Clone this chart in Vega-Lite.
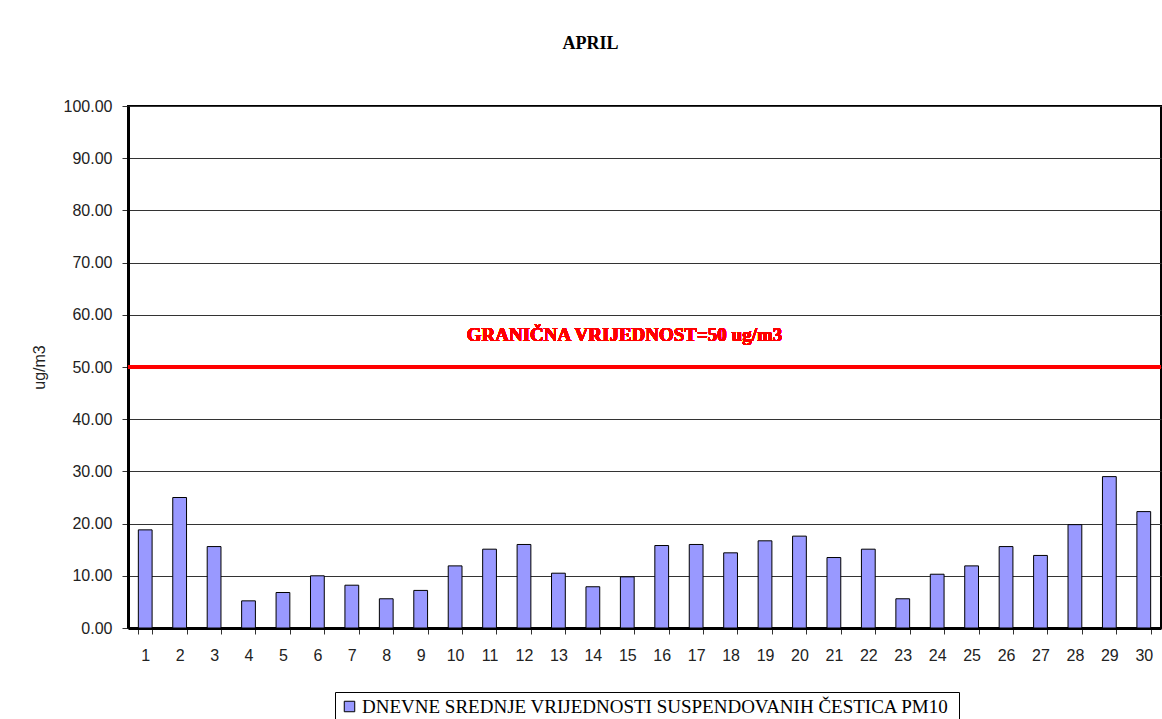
{
  "$schema": "https://vega.github.io/schema/vega-lite/v6.json",
  "width": 1033,
  "height": 522,
  "autosize": {"type": "none"},
  "padding": {"left": 128, "top": 106, "right": 1, "bottom": 91},
  "background": "white",
  "title": {"text": "APRIL", "font": "Liberation Serif", "fontSize": 18, "fontWeight": "bold", "color": "black", "offset": 45, "anchor": "middle", "dx": -54},
  "config": {"view": {"stroke": "black", "strokeWidth": 2}},
  "data": {"values": [
    {"dan": 1, "pm10": 18.8}, {"dan": 2, "pm10": 25.0}, {"dan": 3, "pm10": 15.6}, {"dan": 4, "pm10": 5.2},
    {"dan": 5, "pm10": 6.8}, {"dan": 6, "pm10": 10.0}, {"dan": 7, "pm10": 8.2}, {"dan": 8, "pm10": 5.6},
    {"dan": 9, "pm10": 7.2}, {"dan": 10, "pm10": 11.9}, {"dan": 11, "pm10": 15.1}, {"dan": 12, "pm10": 16.0},
    {"dan": 13, "pm10": 10.5}, {"dan": 14, "pm10": 7.9}, {"dan": 15, "pm10": 9.8}, {"dan": 16, "pm10": 15.8},
    {"dan": 17, "pm10": 16.0}, {"dan": 18, "pm10": 14.4}, {"dan": 19, "pm10": 16.7}, {"dan": 20, "pm10": 17.6},
    {"dan": 21, "pm10": 13.5}, {"dan": 22, "pm10": 15.1}, {"dan": 23, "pm10": 5.6}, {"dan": 24, "pm10": 10.3},
    {"dan": 25, "pm10": 11.9}, {"dan": 26, "pm10": 15.6}, {"dan": 27, "pm10": 13.9}, {"dan": 28, "pm10": 19.8},
    {"dan": 29, "pm10": 29.0}, {"dan": 30, "pm10": 22.3}
  ]},
  "layer": [
    {
      "mark": {"type": "bar", "fill": "#9999FF", "stroke": "black", "strokeWidth": 1},
      "encoding": {
        "x": {
          "field": "dan", "type": "ordinal",
          "scale": {"paddingInner": 0.6, "paddingOuter": 0.3},
          "axis": {"title": null, "labelAngle": 0, "tickBand": "extent", "tickSize": 6, "tickColor": "#333",
                   "domainColor": "black", "domainWidth": 3, "labelFont": "Liberation Sans", "labelFontSize": 16,
                   "labelColor": "#222", "labelPadding": 13, "grid": false}
        },
        "y": {
          "field": "pm10", "type": "quantitative",
          "scale": {"domain": [0, 100], "nice": false},
          "axis": {"values": [0, 10, 20, 30, 40, 50, 60, 70, 80, 90, 100], "format": ".2f", "grid": true,
                   "gridColor": "#333", "gridWidth": 1, "gridOpacity": 1, "tickSize": 6, "tickColor": "#333",
                   "domainColor": "black", "domainWidth": 3, "labelFont": "Liberation Sans", "labelFontSize": 16,
                   "labelColor": "#222", "labelPadding": 10, "title": "ug/m3", "titleFont": "Liberation Sans",
                   "titleFontSize": 16, "titleFontWeight": "normal", "titleColor": "#222", "titlePadding": 16}
        },
        "color": {
          "datum": "DNEVNE  SREDNJE VRIJEDNOSTI SUSPENDOVANIH ČESTICA PM10",
          "scale": {"range": ["#9999FF"]},
          "legend": {"title": null, "orient": "none", "legendX": 207, "legendY": 586, "direction": "horizontal",
                     "strokeColor": "black", "fillColor": "white", "padding": 5, "labelFont": "Liberation Serif",
                     "labelFontSize": 19, "labelColor": "black", "labelLimit": 1000, "symbolType": "square",
                     "symbolSize": 110, "symbolStrokeColor": "black", "symbolStrokeWidth": 1, "labelOffset": 3}
        }
      }
    },
    {
      "mark": {"type": "rule", "color": "red", "strokeWidth": 4},
      "encoding": {"y": {"datum": 50}}
    },
    {
      "mark": {"type": "text", "color": "red", "font": "Liberation Serif", "fontSize": 19, "fontWeight": "bold", "baseline": "alphabetic", "align": "center", "dx": -20},
      "encoding": {"y": {"datum": 55}, "text": {"value": "GRANIČNA VRIJEDNOST=50 ug/m3"}}
    }
  ]
}
